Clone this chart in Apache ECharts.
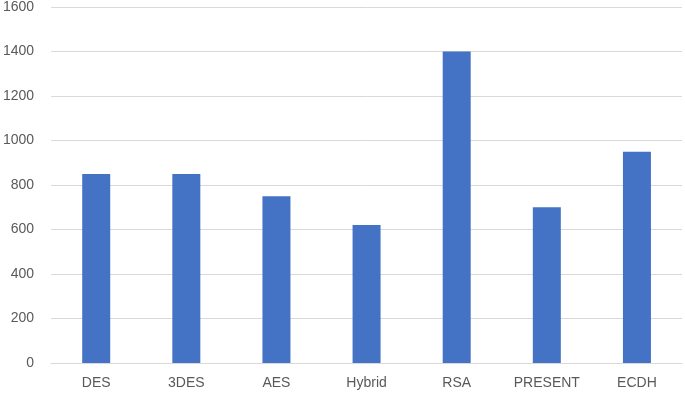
<!doctype html>
<html>
<head>
<meta charset="utf-8">
<title>Bar chart</title>
<style>
  html, body { margin: 0; padding: 0; background: #fff; }
  #main { width: 685px; height: 395px; }
</style>
</head>
<body>
<div id="main"></div>
<script src="https://cdn.jsdelivr.net/npm/echarts@6/dist/echarts.min.js"></script>
<script>
var categories = ['DES', '3DES', 'AES', 'Hybrid', 'RSA', 'PRESENT', 'ECDH'];
var values = [850, 850, 750, 620, 1400, 700, 950];

var chart = echarts.init(document.getElementById('main'));

chart.setOption({
    animation: false,
    grid: { left: 51, right: 3, top: 6, bottom: 32 },
    xAxis: {
        type: 'category',
        data: categories,
        axisLine: { lineStyle: { color: '#d9d9d9', width: 1 } },
        axisTick: { show: false },
        axisLabel: { color: '#595959', fontSize: 14, margin: 13, fontFamily: 'Liberation Sans, Arial, sans-serif' }
    },
    yAxis: {
        type: 'value',
        min: 0,
        max: 1600,
        interval: 200,
        axisLine: { show: false },
        axisTick: { show: false },
        splitLine: { lineStyle: { color: '#d9d9d9', width: 1 } },
        axisLabel: {
            color: '#595959', fontSize: 14, margin: 17,
            fontFamily: 'Liberation Sans, Arial, sans-serif',
            formatter: function (v) { return String(v); }
        }
    },
    series: [{
        type: 'bar',
        data: values,
        barWidth: 28,
        itemStyle: { color: '#4472c4' }
    }]
});
</script>
</body>
</html>
